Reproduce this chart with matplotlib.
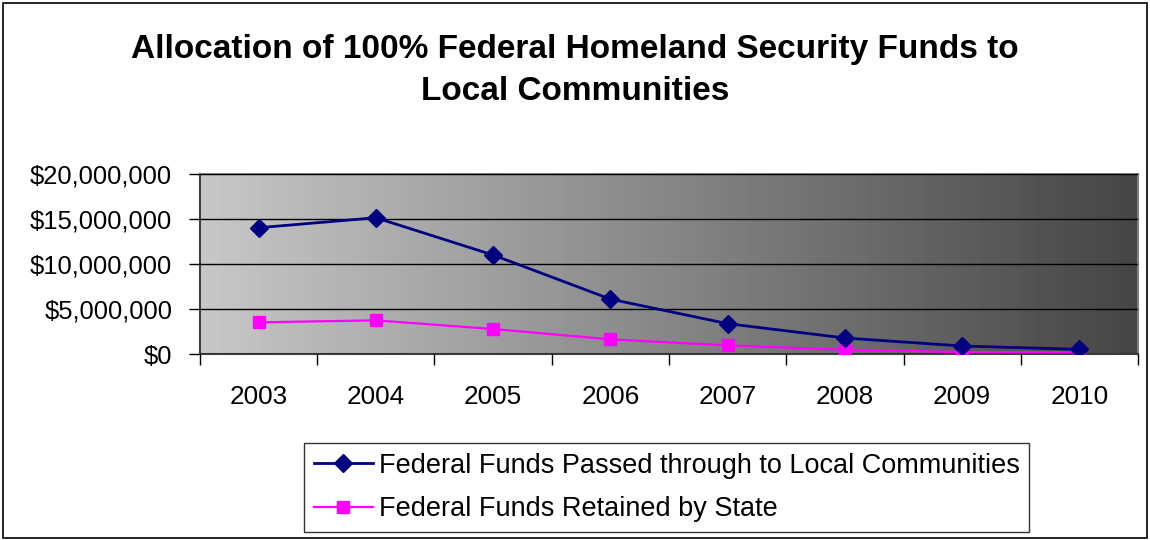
import numpy as np
import matplotlib.pyplot as plt
from matplotlib.ticker import FuncFormatter, FixedLocator
from matplotlib.patches import Rectangle

plt.rcParams['font.family'] = ['Liberation Sans', 'DejaVu Sans']

years = ['2003', '2004', '2005', '2006', '2007', '2008', '2009', '2010']
passed_through = [14030000, 15140000, 11000000, 6100000, 3370000, 1780000, 890000, 520000]
retained = [3520000, 3740000, 2780000, 1630000, 960000, 480000, 220000, 200000]

title = 'Allocation of 100% Federal Homeland Security Funds to\nLocal Communities'
label_passed = 'Federal Funds Passed through to Local Communities'
label_retained = 'Federal Funds Retained by State'

fig = plt.figure(figsize=(11.5, 5.4), dpi=100)
ax = fig.add_axes([0.1739, 0.3444, 0.8157, 0.3334])

# gray gradient background, light on the left, dark on the right
grad = np.linspace(0.78, 0.27, 256).reshape(1, -1)
ax.imshow(grad, cmap='gray', vmin=0, vmax=1, aspect='auto',
          extent=[0, 1, 0, 1], transform=ax.transAxes, zorder=0)

x = np.arange(len(years))
ax.plot(x, passed_through, color='#000080', lw=2, marker='D', ms=9,
        label=label_passed, zorder=4)
ax.plot(x, retained, color='#FF00FF', lw=1.6, marker='s', ms=8.5,
        label=label_retained, zorder=3)

ax.set_xlim(-0.5, len(years) - 0.5)
ax.set_ylim(0, 20000000)
ax.set_yticks(np.arange(0, 20000001, 5000000))
ax.yaxis.set_major_formatter(FuncFormatter(lambda v, p: '${:,.0f}'.format(v)))
ax.grid(axis='y', color='black', lw=1, zorder=1)
ax.set_axisbelow(False)

ax.set_xticks(x)
ax.set_xticklabels(years)
ax.xaxis.set_minor_locator(FixedLocator(np.arange(-0.5, len(years), 1)))
ax.tick_params(axis='x', which='major', length=0, pad=22, labelsize=18.8)
ax.tick_params(axis='x', which='minor', length=8, width=1, direction='out')
ax.tick_params(axis='y', length=8, width=1, labelsize=18.4, pad=12)

for s in ['top', 'right']:
    ax.spines[s].set_color('#808080')
    ax.spines[s].set_linewidth(1.5)
for s in ['left', 'bottom']:
    ax.spines[s].set_color('#404040')
    ax.spines[s].set_linewidth(1.5)

fig.text(0.5, 0.869, title, ha='center', va='center', fontsize=24,
         fontweight='bold', linespacing=1.45)

leg = fig.legend(loc='center', bbox_to_anchor=(0.5796, 0.0972), fontsize=19.5,
                 frameon=True, fancybox=False, edgecolor='black',
                 handlelength=2.2, borderpad=0.35, labelspacing=0.65,
                 handletextpad=0.2)
leg.get_frame().set_linewidth(1)

fig.patches.append(Rectangle((0.003, 0.004), 0.994, 0.99, transform=fig.transFigure,
                             fill=False, edgecolor='black', lw=1.2))

fig.savefig('out.png', dpi=100)
